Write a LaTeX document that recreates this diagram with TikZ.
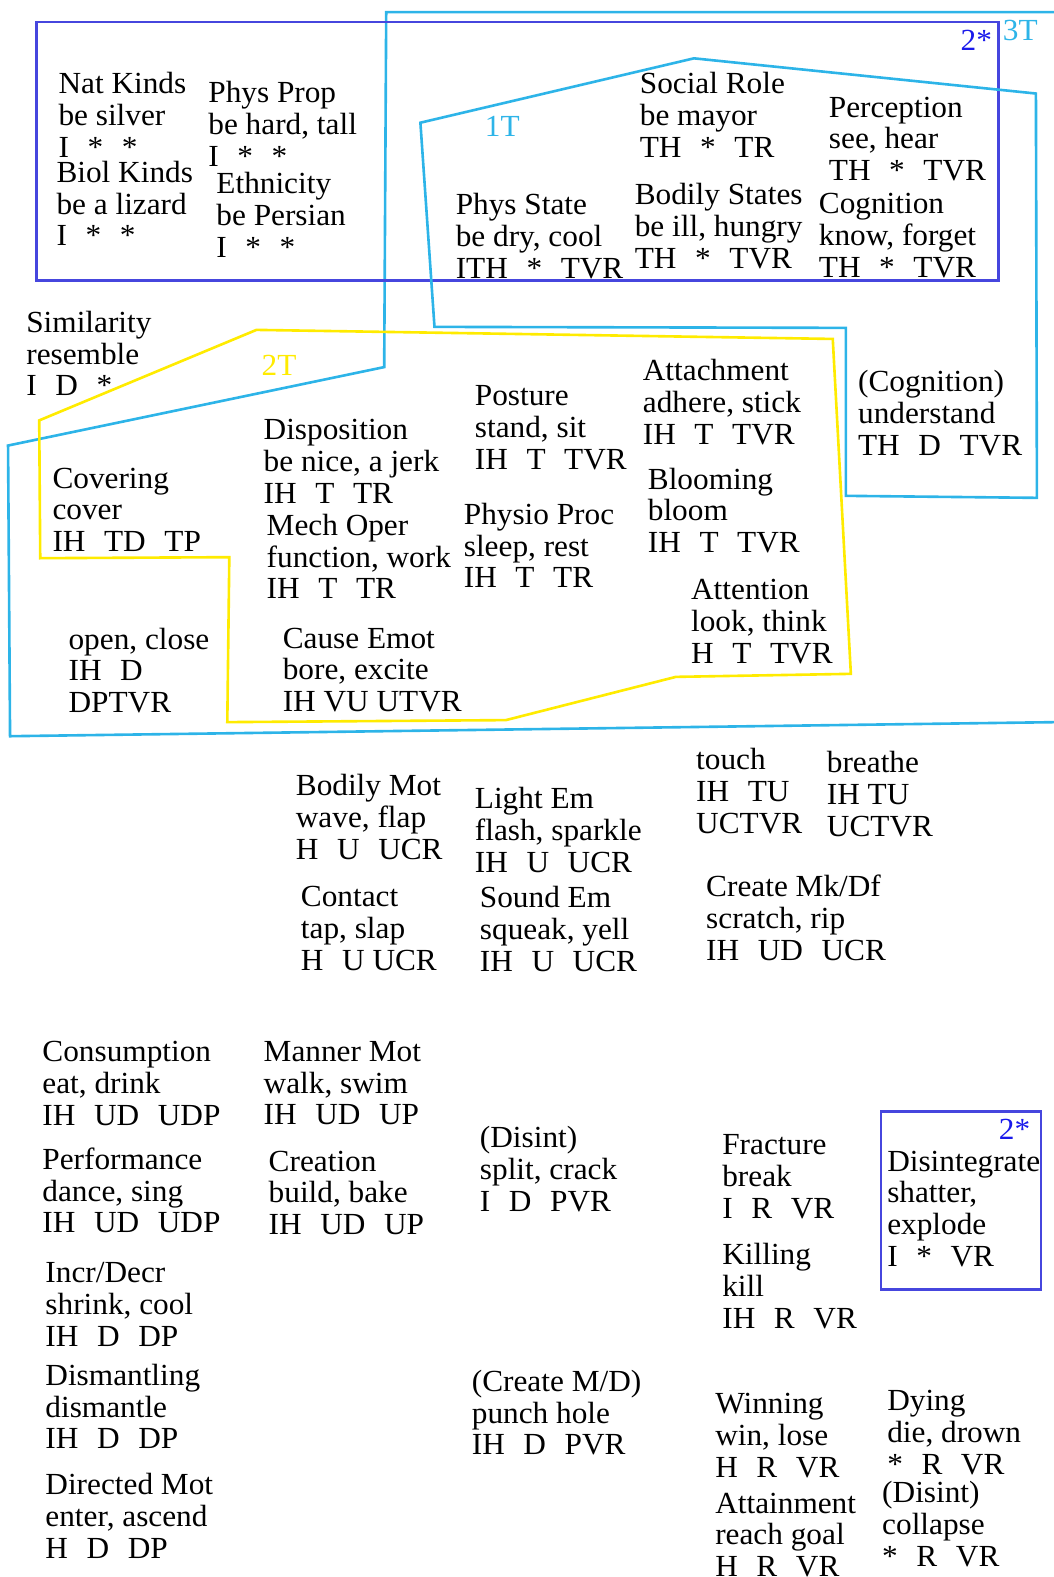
\documentclass[tikz,border=0pt]{standalone}
\usepackage{fontspec}
\setmainfont{Liberation Serif}[FakeStretch=1.02]
\definecolor{tcyan}{RGB}{45,180,232}
\definecolor{tyellow}{RGB}{255,235,0}
\definecolor{tblue}{RGB}{70,70,222}
\definecolor{tlabel}{RGB}{25,25,235}
\newcommand{\tg}{\hspace{18.5pt}}
\begin{document}
\begin{tikzpicture}[x=1pt, y=-1pt,
  cls/.style={anchor=north west, inner sep=0pt, align=left, yshift=-2pt,
    font=\fontsize{30.5}{31.6}\selectfont, execute at begin node=\strut},
  tag/.style={anchor=base west, inner sep=0pt, font=\fontsize{30.5}{31.6}\selectfont},
  zone/.style={line width=2.6pt, line join=miter}]
\useasboundingbox (0,0) rectangle (1047,1568);

% 3T region
\draw[zone, tcyan] (384,12) -- (1051,12) -- (1051,718) -- (10,732) -- (8,443) -- (382,365) -- cycle;
\node[tag, tcyan] (l3t) at (997,40) {3T};

% 2* box at top
\draw[zone, tblue] (36,22) rectangle (993,279);
\node[tag, tlabel] (l2a) at (955,50) {2*};

% 1T region
\draw[zone, tcyan] (418,122) -- (690,58) -- (1030,93) -- (1031,495) -- (841,493) -- (841,326) -- (432,325) -- cycle;
\node[tag, tcyan] (l1t) at (482,136) {1T};

% 2T region
\draw[zone, tyellow] (255,328) -- (828,337) -- (846,670) -- (672,673) -- (503,716) -- (226,718) -- (228,554) -- (40,555) -- (39,418) -- cycle;
\node[tag, tyellow] (l2t) at (260,373) {2T};

% top box
\node[cls] (natkinds) at (58,70) {Nat Kinds\\be silver\\I\tg*\tg*};
\node[cls] (biolkinds) at (56,158) {Biol Kinds\\be a lizard\\I\tg*\tg*};
\node[cls] (physprop) at (207,79) {Phys Prop\\be hard, tall\\I\tg*\tg*};
\node[cls] (ethnicity) at (215,169) {Ethnicity\\be Persian\\I\tg*\tg*};
\node[cls] (socialrole) at (636,70) {Social Role\\be mayor\\TH\tg*\tg TR};
\node[cls] (perception) at (824,94) {Perception\\see, hear\\TH\tg*\tg TVR};
\node[cls] (physstate) at (453,190) {Phys State\\be dry, cool\\ITH\tg*\tg TVR};
\node[cls] (bodilystates) at (631,180) {Bodily States\\be ill, hungry\\TH\tg*\tg TVR};
\node[cls] (cognition) at (814,190) {Cognition\\know, forget\\TH\tg*\tg TVR};

% middle band
\node[cls] (similarity) at (26,307) {Similarity\\resemble\\I\tg D\tg*};
\node[cls] (cognitionb) at (853,366) {(Cognition)\\understand\\TH\tg D\tg TVR};
\node[cls] (covering) at (52,463) {Covering\\cover\\IH\tg TD\tg TP};
\node[cls] (disposition) at (262,415) {Disposition\\be nice, a jerk\\IH\tg T\tg TR};
\node[cls] (mechoper) at (265,509) {Mech Oper\\function, work\\IH\tg T\tg TR};
\node[cls] (posture) at (472,381) {Posture\\stand, sit\\IH\tg T\tg TVR};
\node[cls] (physioproc) at (461,498) {Physio Proc\\sleep, rest\\IH\tg T\tg TR};
\node[cls] (attachment) at (639,355) {Attachment\\adhere, stick\\IH\tg T\tg TVR};
\node[cls] (blooming) at (644,463) {Blooming\\bloom\\IH\tg T\tg TVR};
\node[cls] (attention) at (687,574) {Attention\\look, think\\H\tg T\tg TVR};
\node[cls] (openclose) at (68,622) {open, close\\IH\tg D\\DPTVR};
\node[cls] (causeemot) at (281,622) {Cause Emot\\bore, excite\\IH VU UTVR};

% U group
\node[cls] (bodilymot) at (294,768) {Bodily Mot\\wave, flap\\H\tg U\tg UCR};
\node[cls] (contact) at (299,879) {Contact\\tap, slap\\H\tg U UCR};
\node[cls] (lightem) at (472,781) {Light Em\\flash, sparkle\\IH\tg U\tg UCR};
\node[cls] (soundem) at (477,879) {Sound Em\\squeak, yell\\IH\tg U\tg UCR};
\node[cls] (touch) at (692,742) {touch\\IH\tg TU\\UCTVR};
\node[cls] (breathe) at (822,745) {breathe\\IH TU\\UCTVR};
\node[cls] (createmk) at (702,868) {Create Mk/Df\\scratch, rip\\IH\tg UD\tg UCR};

% D group
\node[cls] (consumption) at (42,1033) {Consumption\\eat, drink\\IH\tg UD\tg UDP};
\node[cls] (performance) at (42,1139) {Performance\\dance, sing\\IH\tg UD\tg UDP};
\node[cls] (mannermot) at (262,1033) {Manner Mot\\walk, swim\\IH\tg UD\tg UP};
\node[cls] (creation) at (267,1142) {Creation\\build, bake\\IH\tg UD\tg UP};
\node[cls] (incrdecr) at (45,1253) {Incr/Decr\\shrink, cool\\IH\tg D\tg DP};
\node[cls] (dismantling) at (45,1354) {Dismantling\\dismantle\\IH\tg D\tg DP};
\node[cls] (directedmot) at (45,1463) {Directed Mot\\enter, ascend\\H\tg D\tg DP};
\node[cls] (disint) at (477,1118) {(Disint)\\split, crack\\I\tg D\tg PVR};
\node[cls] (createmd) at (469,1360) {(Create M/D)\\punch hole\\IH\tg D\tg PVR};

% R group
\node[cls] (fracture) at (718,1126) {Fracture\\break\\I\tg R\tg VR};
\node[cls] (killing) at (718,1234) {Killing\\kill\\IH\tg R\tg VR};
\draw[zone, tblue] (876,1105) rectangle (1035,1282);
\node[tag, tlabel] (l2b) at (993,1133) {2*};
\node[cls] (disintegrate) at (882,1142) {Disintegrate\\shatter,\\explode\\I\tg*\tg VR};
\node[cls] (winning) at (711,1383) {Winning\\win, lose\\H\tg R\tg VR};
\node[cls] (attainment) at (711,1482) {Attainment\\reach goal\\H\tg R\tg VR};
\node[cls] (dying) at (882,1380) {Dying\\die, drown\\*\tg R\tg VR};
\node[cls] (collapse) at (877,1471) {(Disint)\\collapse\\*\tg R\tg VR};
\end{tikzpicture}
\end{document}
